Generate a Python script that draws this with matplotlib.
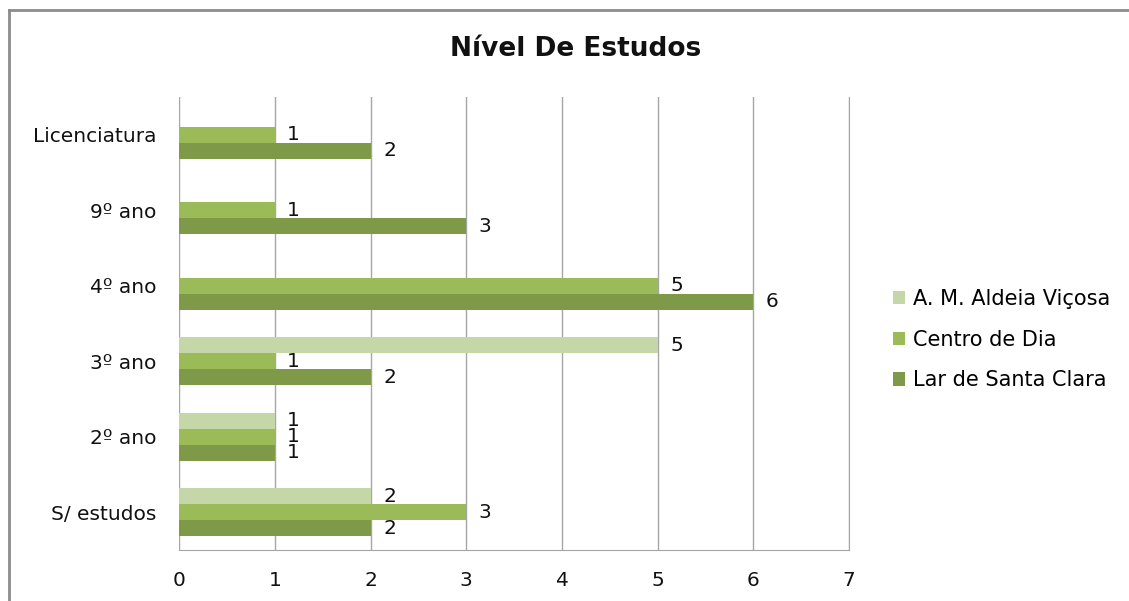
import numpy as np
import matplotlib
matplotlib.use('Agg')
import matplotlib.pyplot as plt
from matplotlib.lines import Line2D

# Education level by institution
categories = ['S/ estudos', '2º ano', '3º ano', '4º ano', '9º ano', 'Licenciatura']
aldeia = [2, 1, 5, 0, 0, 0]
centro = [3, 1, 1, 5, 1, 1]
lar = [2, 1, 2, 6, 3, 2]
series_names = ['A. M. Aldeia Viçosa', 'Centro de Dia', 'Lar de Santa Clara']

COLORS = ['#c5d7a9', '#9bbb59', '#7e9a48']
GRID = '#a6a6a6'
TEXT = '#111111'
FS = 14.5

plt.rcParams.update({
    'font.family': ['DejaVu Sans'],
    'font.size': FS,
})

fig = plt.figure(figsize=(11.29, 6.01), dpi=100)
ax = fig.add_axes([0.1586, 0.0849, 0.5935, 0.7537])

y = np.arange(len(categories))
h = 0.212
offsets = [h, 0, -h]
handles = []
for vals, off, col, name in zip([aldeia, centro, lar], offsets, COLORS, series_names):
    bars = ax.barh(y + off, vals, height=h, color=col, edgecolor='none',
                   label=name, zorder=3)
    handles.append(bars)
    for yy, v in zip(y + off, vals):
        if v == 0:
            continue
        ax.annotate(f'{v}', xy=(v, yy), xytext=(9, 0), textcoords='offset points',
                    ha='left', va='center', fontsize=FS, color=TEXT, zorder=4)

ax.set_xlim(0, 7)
ax.set_ylim(-0.5, len(categories) - 0.5)
ax.set_xticks(range(0, 8))
ax.set_yticks(y)
ax.set_yticklabels(categories)
ax.xaxis.grid(True, color=GRID, linewidth=1, zorder=0)
ax.set_axisbelow(True)
ax.spines[['top', 'left']].set_visible(False)
ax.spines['right'].set_color(GRID)
ax.spines['bottom'].set_color(GRID)
ax.tick_params(axis='x', length=0, pad=15, colors=TEXT)
ax.tick_params(axis='y', length=0, pad=16, colors=TEXT)

fig.text(0.510, 0.918, 'Nível De Estudos', ha='center', va='center',
         fontsize=19, fontweight='bold', color=TEXT)

fig.legend(handles=handles, labels=series_names, loc='center left',
           bbox_to_anchor=(0.774, 0.435), frameon=False, fontsize=15,
           handlelength=0.6, handleheight=0.6, handletextpad=0.4,
           labelspacing=1.0)

# outer chart border (left and top edges)
fig.add_artist(Line2D([0.008, 0.008], [0.0, 0.983], transform=fig.transFigure,
                      color='#8c8c8c', linewidth=2))
fig.add_artist(Line2D([0.008, 1.0], [0.983, 0.983], transform=fig.transFigure,
                      color='#8c8c8c', linewidth=2))

fig.savefig('out.png', dpi=100, facecolor='white')
